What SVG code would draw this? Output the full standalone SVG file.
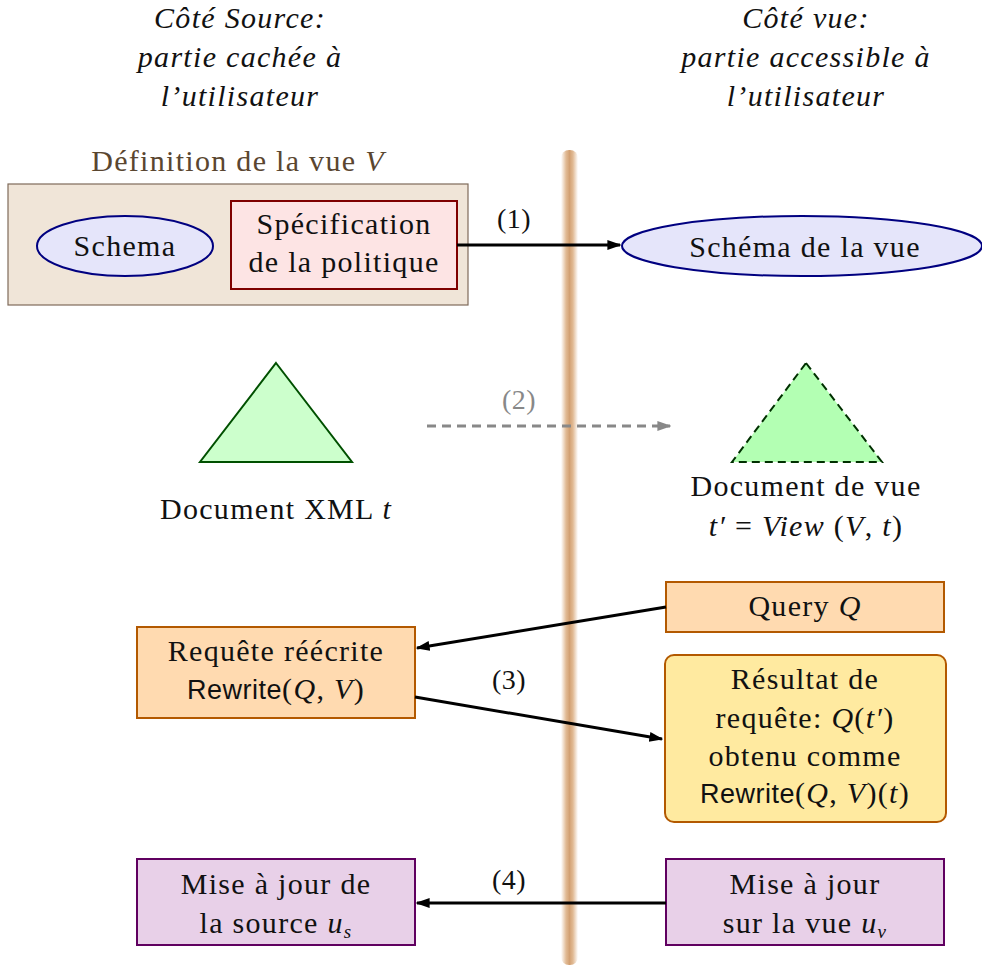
<svg xmlns="http://www.w3.org/2000/svg" width="982" height="965" viewBox="0 0 982 965">
<defs>
<linearGradient id="wall" x1="0" y1="0" x2="1" y2="0">
<stop offset="0" stop-color="#d9a878" stop-opacity="0"/>
<stop offset="0.3" stop-color="#d9a878" stop-opacity="0.8"/>
<stop offset="0.5" stop-color="#d2a072"/>
<stop offset="0.7" stop-color="#d9a878" stop-opacity="0.8"/>
<stop offset="1" stop-color="#d9a878" stop-opacity="0"/>
</linearGradient>
<marker id="ahb" viewBox="0 0 10 10" refX="9" refY="5" markerWidth="14" markerHeight="14" orient="auto" markerUnits="userSpaceOnUse">
<path d="M0,1.5 L10,5 L0,8.5 Z" fill="#000"/>
</marker>
<marker id="ahg" viewBox="0 0 10 10" refX="9" refY="5" markerWidth="14" markerHeight="14" orient="auto" markerUnits="userSpaceOnUse">
<path d="M0,1.5 L10,5 L0,8.5 Z" fill="#888"/>
</marker>
</defs>
<style>
text{font-family:"Liberation Serif","Times New Roman",serif;font-size:30px;letter-spacing:1.3px;fill:#111;text-anchor:middle}
.it{font-style:italic}
.sf{font-family:"Liberation Sans",Arial,sans-serif;font-size:27px;letter-spacing:0.5px}
.lbl{font-size:28px;letter-spacing:0.5px}
.conn{stroke:#000;stroke-width:3;fill:none;marker-end:url(#ahb)}
.peach{fill:#ffdab0;stroke:#b35900;stroke-width:2}
.purple{fill:#e8d0e8;stroke:#600060;stroke-width:2}
</style>
<rect id="wall-bar" x="561" y="150" width="17" height="815" rx="8" fill="url(#wall)"/>
<g id="title-left">
<text class="it" x="240" y="28">Côté Source:</text>
<text class="it" x="240" y="67">partie cachée à</text>
<text class="it" x="240" y="106">l’utilisateur</text>
</g>
<g id="title-right">
<text class="it" x="806" y="28">Côté vue:</text>
<text class="it" x="806" y="67">partie accessible à</text>
<text class="it" x="806" y="106">l’utilisateur</text>
</g>
<g id="view-def">
<text x="238" y="171" style="fill:#5a4630">Définition de la vue <tspan class="it">V</tspan></text>
<rect x="8" y="184" width="460" height="121" fill="#f0e5d8" stroke="#7f6a5a" stroke-width="1.2"/>
</g>
<g id="schema">
<ellipse cx="125" cy="246" rx="88" ry="30" fill="#e5e5fa" stroke="#000080" stroke-width="2"/>
<text x="125" y="256">Schema</text>
</g>
<g id="spec">
<rect x="231" y="201" width="226" height="88" fill="#fde4e4" stroke="#7f0000" stroke-width="2"/>
<text x="344" y="234">Spécification</text>
<text x="344" y="272">de la politique</text>
</g>
<g id="schema-vue">
<ellipse cx="802" cy="246" rx="180" ry="30" fill="#e5e5fa" stroke="#000080" stroke-width="2"/>
<text x="805" y="257">Schéma de la vue</text>
</g>
<g id="doc-xml">
<polygon points="276,363 352,462 200,462" fill="#ccffcc" stroke="#005000" stroke-width="2"/>
<text x="276" y="519">Document XML <tspan class="it">t</tspan></text>
</g>
<g id="doc-vue">
<polygon points="806,363 882,462 732,462" fill="#b3ffb3" stroke="#003000" stroke-width="2" stroke-dasharray="8,5"/>
<text x="806" y="496">Document de vue</text>
<text x="806" y="536"><tspan class="it">t′</tspan> = <tspan class="it">View</tspan> (<tspan class="it">V</tspan>, <tspan class="it">t</tspan>)</text>
</g>
<g id="query">
<rect class="peach" x="666" y="582" width="278" height="50"/>
<text x="805" y="616">Query <tspan class="it">Q</tspan></text>
</g>
<g id="rewrite">
<rect class="peach" x="137" y="627" width="278" height="91"/>
<text x="276" y="661">Requête réécrite</text>
<text x="276" y="699"><tspan class="sf">Rewrite</tspan>(<tspan class="it">Q</tspan>, <tspan class="it">V</tspan>)</text>
</g>
<g id="result">
<rect x="665" y="655" width="281" height="167" rx="9" fill="#ffeaa0" stroke="#b35900" stroke-width="2"/>
<text x="805" y="689">Résultat de</text>
<text x="805" y="728">requête: <tspan class="it">Q</tspan>(<tspan class="it">t′</tspan>)</text>
<text x="805" y="766">obtenu comme</text>
<text x="805" y="803"><tspan class="sf">Rewrite</tspan>(<tspan class="it">Q</tspan>, <tspan class="it">V</tspan>)(<tspan class="it">t</tspan>)</text>
</g>
<g id="update-source">
<rect class="purple" x="137" y="859" width="278" height="86"/>
<text x="276" y="894">Mise à jour de</text>
<text x="276" y="933">la source <tspan class="it">u</tspan><tspan class="it" style="font-size:19px" dy="5">s</tspan></text>
</g>
<g id="update-view">
<rect class="purple" x="666" y="859" width="278" height="86"/>
<text x="805" y="894">Mise à jour</text>
<text x="805" y="933">sur la vue <tspan class="it">u</tspan><tspan class="it" style="font-size:19px" dy="5">v</tspan></text>
</g>
<g id="connectors">
<line class="conn" x1="457" y1="245" x2="620" y2="245"/>
<text class="lbl" x="514" y="228">(1)</text>
<line x1="427" y1="426" x2="670" y2="426" stroke="#888" stroke-width="3" stroke-dasharray="9,6" marker-end="url(#ahg)"/>
<text class="lbl" x="519" y="409" style="fill:#888">(2)</text>
<line class="conn" x1="666" y1="607" x2="417" y2="648"/>
<line class="conn" x1="415" y1="697" x2="662" y2="739"/>
<text class="lbl" x="509" y="689">(3)</text>
<line class="conn" x1="666" y1="903" x2="417" y2="903"/>
<text class="lbl" x="509" y="889">(4)</text>
</g>
</svg>
